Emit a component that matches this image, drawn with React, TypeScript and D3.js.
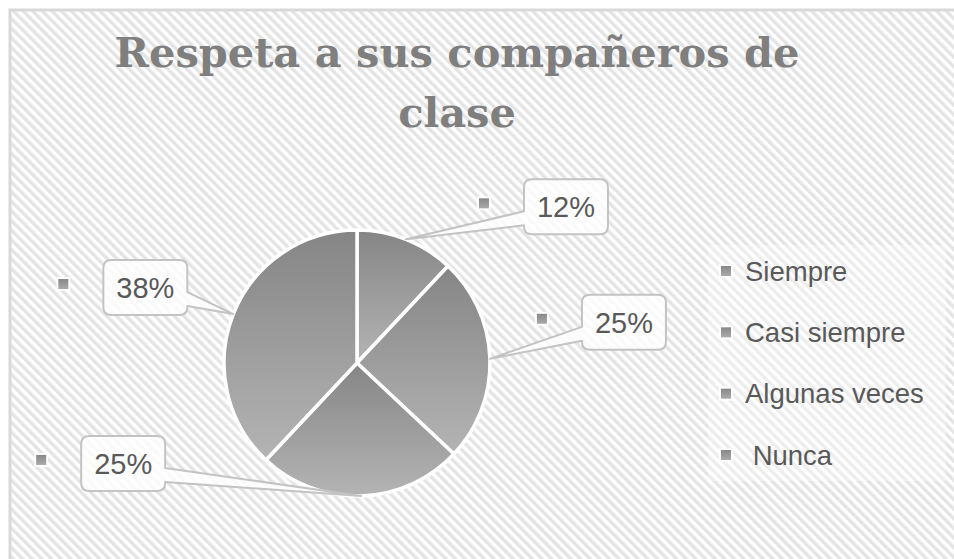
import * as d3 from "d3";

// chart data
const categories = ["Siempre", "Casi siempre", "Algunas veces", " Nunca"];
const percents = [12, 25, 25, 38];
const titleLines = ["Respeta a sus compañeros de", "clase"];

// label box placement, relative to the point on the pie edge the callout points at
const labelOffsets = [
  [118, -60],
  [92, -64],
  [-280, -60],
  [-130, -54],
];

const W = 954;
const H = 559;
const cx = 357;
const cy = 363;
const radius = 133;
const boxW = 84;
const boxH = 55;
const textColor = "#595959";

// rounded box with a pointer tail on one side
const calloutPath = (x0, y0, tx, ty, side) => {
  const x1 = x0 + boxW;
  const y1 = y0 + boxH;
  const r = 8;
  const ta = y0 + 32;
  const tb = y0 + 46;
  let p = `M${x0 + r},${y0} H${x1 - r} Q${x1},${y0} ${x1},${y0 + r}`;
  if (side === "right") p += ` V${ta} L${tx},${ty} L${x1},${tb}`;
  p += ` V${y1 - r} Q${x1},${y1} ${x1 - r},${y1} H${x0 + r} Q${x0},${y1} ${x0},${y1 - r}`;
  if (side === "left") p += ` V${tb} L${tx},${ty} L${x0},${ta}`;
  p += ` V${y0 + r} Q${x0},${y0} ${x0 + r},${y0} Z`;
  return p;
};

const Key = ({ x, y }) => (
  <g>
    <rect x={x - 7} y={y - 7} width={14} height={14} fill="#ffffff" opacity={0.8} />
    <rect x={x - 5} y={y - 5} width={10} height={10} fill="url(#keyGrad)" />
  </g>
);

export default function App() {
  const pie = d3.pie<number>().sort(null).value((d) => d);
  const arcs = pie(percents);
  const arc = d3.arc<d3.PieArcDatum<number>>().innerRadius(0).outerRadius(radius);

  const legendY = d3.scalePoint().domain(categories).range([271, 455]);

  return (
    <svg
      width={W}
      height={H}
      style={{ position: "absolute", left: 0, top: 0, display: "block" }}
    >
      <defs>
        <pattern
          id="hatch"
          patternUnits="userSpaceOnUse"
          width={6.8}
          height={6.8}
          patternTransform="rotate(-45)"
        >
          <rect width={6.8} height={6.8} fill="#ffffff" />
          <rect width={3.4} height={6.8} fill="#e4e4e4" />
        </pattern>
        <linearGradient id="sliceGrad" x1="0" y1="0" x2="0" y2="1">
          <stop offset="0%" stopColor="#858585" />
          <stop offset="100%" stopColor="#b4b4b4" />
        </linearGradient>
        <linearGradient id="keyGrad" x1="0" y1="0" x2="0" y2="1">
          <stop offset="0%" stopColor="#888888" />
          <stop offset="100%" stopColor="#aaaaaa" />
        </linearGradient>
      </defs>

      <rect x={0} y={0} width={W} height={H} fill="#ffffff" />
      <rect x={10} y={10} width={W + 20} height={H + 20} fill="url(#hatch)" stroke="#d9d9d9" strokeWidth={3} />

      {/* title */}
      <g fill="#7f7f7f" fontFamily="'DejaVu Serif', serif" fontWeight="bold" fontSize={41.5} textAnchor="middle">
        {titleLines.map((t, i) => (
          <text key={i} x={457} y={67 + i * 60}>
            {t}
          </text>
        ))}
      </g>

      {/* legend */}
      <rect x={708} y={245} width={238} height={236} fill="#ffffff" opacity={0.35} />
      <g fontFamily="'Liberation Sans', Arial, sans-serif" fontSize={27.5} fill={textColor}>
        {categories.map((c) => (
          <g key={c} transform={`translate(0,${legendY(c)})`}>
            <Key x={726} y={0} />
            <text x={745} y={9.5} style={{ whiteSpace: "pre" }}>
              {c}
            </text>
          </g>
        ))}
      </g>

      {/* pie */}
      <g transform={`translate(${cx},${cy})`}>
        {arcs.map((a, i) => (
          <path key={i} d={arc(a) || ""} fill="url(#sliceGrad)" stroke="#ffffff" strokeWidth={3.5} strokeLinejoin="round" />
        ))}
      </g>

      {/* data labels */}
      <g fontFamily="'Liberation Sans', Arial, sans-serif" fontSize={29} fill={textColor}>
        {arcs.map((a, i) => {
          const mid = (a.startAngle + a.endAngle) / 2;
          const tx = cx + Math.sin(mid) * radius;
          const ty = cy - Math.cos(mid) * radius;
          const bx = tx + labelOffsets[i][0];
          const by = ty + labelOffsets[i][1];
          const side = bx > tx ? "left" : "right";
          return (
            <g key={i}>
              <Key x={bx - 40} y={by + 24} />
              <path
                d={calloutPath(bx, by, tx, ty, side)}
                fill="#ffffff"
                fillOpacity={0.82}
                stroke="#c3c3c3"
                strokeWidth={2}
                strokeLinejoin="round"
              />
              <text x={bx + boxW / 2} y={by + 38} textAnchor="middle">
                {percents[i]}%
              </text>
            </g>
          );
        })}
      </g>
    </svg>
  );
}
